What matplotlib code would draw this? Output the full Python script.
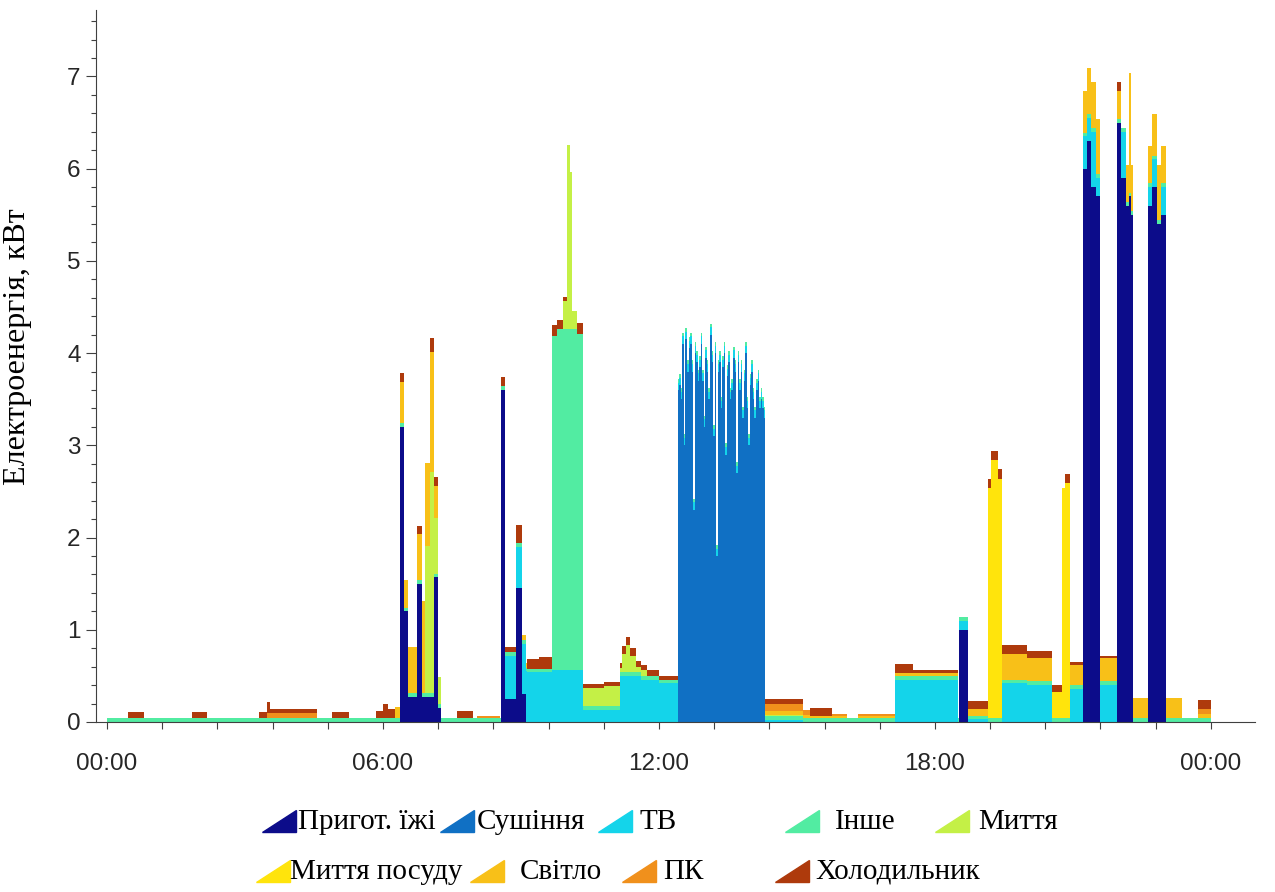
import numpy as np
import matplotlib.pyplot as plt
from matplotlib.patches import Polygon
from matplotlib.ticker import FixedLocator, MultipleLocator

# load profile of one household over a day, kW, stacked by appliance
names = ["Пригот. їжі", "Сушіння", "ТВ", "Інше", "Миття",
         "Миття посуду", "Світло", "ПК", "Холодильник"]
colors = ["#0c0c8a", "#1070c4", "#14d4ea", "#52eca2", "#c4f046",
          "#ffe40c", "#f8c018", "#f0901c", "#ae3a0c"]

# (start hour, end hour, kW)
cook = [(6.37, 6.46, 3.2), (6.46, 6.55, 1.2), (6.55, 6.73, 0.27), (6.73, 6.84, 1.5),
        (6.84, 7.10, 0.27), (7.10, 7.20, 1.57), (7.20, 7.27, 0.15),
        (8.57, 8.66, 3.6), (8.66, 8.90, 0.25), (8.90, 9.02, 1.45), (9.02, 9.12, 0.3),
        (18.52, 18.72, 1.0),
        (21.22, 21.30, 6.0), (21.30, 21.40, 6.3), (21.40, 21.50, 5.8), (21.50, 21.59, 5.7),
        (21.96, 22.05, 6.5), (22.05, 22.15, 5.9), (22.15, 22.22, 5.6), (22.22, 22.26, 5.7),
        (22.26, 22.30, 5.5),
        (22.63, 22.72, 5.6), (22.72, 22.82, 5.8), (22.82, 22.92, 5.4), (22.92, 23.02, 5.5)]

# dryer readings every 2 minutes from 12:25
dry_start = 12.41
dry = [3.6, 3.65, 3.5, 4.1, 3.0, 4.15, 3.8, 4.05, 4.1,
       3.8, 2.3, 4.0, 3.9, 3.7, 3.85, 4.1, 3.7, 3.2, 3.95,
       3.8, 3.5, 4.2, 3.9, 3.1, 4.0, 1.8, 3.8, 3.9, 3.4, 3.85,
       4.0, 2.9, 3.75, 3.9, 3.5, 3.6, 3.95, 3.8, 2.7, 3.9, 3.6,
       3.8, 3.3, 3.7, 4.0, 3.4, 3.0, 3.65, 3.8, 3.5, 3.3, 3.6,
       3.7, 3.4, 3.5, 3.4, 3.3]

tv = [(8.66, 8.90, 0.47), (8.90, 9.02, 0.45), (9.02, 9.13, 0.55), (9.13, 9.67, 0.54),
      (9.67, 10.35, 0.56), (10.35, 11.15, 0.13),
      (11.15, 11.6, 0.5), (11.6, 12.0, 0.46), (12.0, 12.41, 0.42), (12.41, 14.3, 0.08),
      (14.3, 15.13, 0.02), (17.13, 17.6, 0.46), (17.6, 18.5, 0.46),
      (18.52, 18.72, 0.1), (18.72, 19.15, 0.03),
      (19.45, 20.0, 0.42), (20.0, 20.54, 0.4), (20.93, 21.22, 0.36),
      (21.22, 21.30, 0.35), (21.30, 21.40, 0.25), (21.40, 21.50, 0.6), (21.50, 21.59, 0.2),
      (21.59, 21.96, 0.4), (22.05, 22.15, 0.5),
      (22.63, 22.72, 0.2), (22.72, 22.82, 0.3), (22.92, 23.02, 0.3)]

other = [(0.0, 9.67, 0.04), (9.67, 9.78, 3.62), (9.78, 10.22, 3.7),
         (10.22, 10.35, 3.65), (10.35, 24.0, 0.04)]

wash = [(6.91, 7.02, 1.6), (7.02, 7.10, 2.4), (7.10, 7.20, 0.6), (7.20, 7.27, 0.3),
        (9.92, 10.0, 0.3), (10.0, 10.06, 2.0), (10.06, 10.12, 1.7), (10.12, 10.22, 0.2),
        (10.35, 10.8, 0.2), (10.8, 11.15, 0.22),
        (11.15, 11.2, 0.05), (11.2, 11.28, 0.2), (11.28, 11.38, 0.3), (11.38, 11.5, 0.18),
        (11.5, 11.73, 0.06), (14.3, 15.13, 0.02)]

dish = [(19.15, 19.22, 2.5), (19.22, 19.38, 2.8), (19.38, 19.45, 2.6),
        (20.54, 20.76, 0.28), (20.76, 20.83, 2.5), (20.83, 20.93, 2.55)]

light = [(6.26, 6.37, 0.12), (6.37, 6.46, 0.45), (6.46, 6.55, 0.3), (6.55, 6.73, 0.5),
         (6.73, 6.84, 0.5), (6.84, 6.91, 1.0), (6.91, 7.02, 0.9), (7.02, 7.10, 1.3),
         (7.10, 7.20, 0.35), (9.02, 9.13, 0.05),
         (14.3, 15.28, 0.04), (15.28, 16.09, 0.03), (16.33, 18.5, 0.03),
         (18.72, 19.15, 0.07), (19.45, 20.0, 0.28), (20.0, 20.54, 0.25), (20.93, 21.22, 0.22),
         (21.22, 21.30, 0.45), (21.30, 21.40, 0.5), (21.40, 21.50, 0.5), (21.50, 21.59, 0.6),
         (21.59, 21.96, 0.25), (21.96, 22.05, 0.3), (22.15, 22.22, 0.4), (22.22, 22.26, 1.3),
         (22.26, 22.30, 0.5), (22.30, 22.63, 0.22),
         (22.63, 22.72, 0.4), (22.72, 22.82, 0.45), (22.82, 22.92, 0.6), (22.92, 23.02, 0.4),
         (23.02, 23.37, 0.22), (23.72, 24.0, 0.05)]

pc = [(3.48, 4.57, 0.06), (8.04, 8.54, 0.03), (14.3, 15.13, 0.07), (15.13, 15.28, 0.05),
      (15.76, 16.09, 0.02), (16.33, 17.13, 0.02), (23.72, 24.0, 0.05)]

fridge = [(0.45, 0.81, 0.07), (1.84, 2.18, 0.07), (3.30, 3.48, 0.07), (3.48, 3.55, 0.12),
          (3.55, 4.57, 0.04), (4.89, 5.26, 0.07), (5.85, 6.0, 0.08), (6.0, 6.1, 0.15),
          (6.1, 6.26, 0.1), (6.37, 6.46, 0.09), (6.73, 6.84, 0.08), (7.02, 7.10, 0.15),
          (7.10, 7.20, 0.1), (7.60, 7.96, 0.08),
          (8.57, 8.66, 0.1), (8.66, 8.90, 0.05), (8.90, 9.02, 0.2),
          (9.13, 9.4, 0.1), (9.4, 9.67, 0.12), (9.67, 9.78, 0.12), (9.78, 9.92, 0.1),
          (9.92, 10.0, 0.05), (10.22, 10.35, 0.12), (10.35, 11.15, 0.04),
          (11.15, 11.2, 0.05), (11.2, 11.5, 0.08), (11.5, 12.0, 0.06), (12.0, 12.41, 0.04),
          (14.3, 15.13, 0.06), (15.28, 15.76, 0.08),
          (17.13, 17.52, 0.1), (17.52, 18.5, 0.03), (18.72, 19.15, 0.09),
          (19.15, 19.45, 0.1), (19.45, 20.0, 0.1), (20.0, 20.54, 0.08),
          (20.54, 20.76, 0.08), (20.83, 20.93, 0.1), (20.93, 21.22, 0.03),
          (21.59, 21.96, 0.03), (21.96, 22.05, 0.1), (23.72, 24.0, 0.1)]

dry_seg = [(dry_start + i / 30, dry_start + (i + 1) / 30, v) for i, v in enumerate(dry)]
series = [cook, dry_seg, tv, other, wash, dish, light, pc, fridge]

edges = np.array(sorted({round(t, 6) for s in series for a, b, _ in s for t in (a, b)}))
mid = (edges[:-1] + edges[1:]) / 2


def level(segs):
    out = np.zeros(len(mid))
    for a, b, v in segs:
        out[(mid >= a) & (mid < b)] += v
    return out


cum = np.cumsum([level(s) for s in series], axis=0)

plt.rcParams["font.family"] = "Liberation Sans"
fig = plt.figure(figsize=(12.75, 8.92), dpi=100)
ax = fig.add_axes([96 / 1275, 1 - 722 / 892, (1255 - 96) / 1275, (722 - 10) / 892])

# top layer first, each filled down to zero, so no seams between layers
for i in range(len(series) - 1, -1, -1):
    top = np.append(cum[i], cum[i][-1])
    ax.fill_between(edges, 0, top, step="post", color=colors[i], lw=0)

ax.set_xlim(-0.24, 24.96)
ax.set_ylim(0, 7.72)
ax.xaxis.set_major_locator(FixedLocator([0, 6, 12, 18, 24]))
ax.set_xticklabels(["00:00", "06:00", "12:00", "18:00", "00:00"])
ax.xaxis.set_minor_locator(MultipleLocator(1.2))
ax.yaxis.set_major_locator(MultipleLocator(1))
ax.yaxis.set_minor_locator(MultipleLocator(0.2))
ax.tick_params(which="both", direction="out", colors="#404040", labelcolor="#262626",
               labelsize=17.5, width=0.8)
ax.tick_params(axis="y", which="major", length=7, pad=4)
ax.tick_params(axis="y", which="minor", length=3.5)
ax.tick_params(axis="x", which="both", length=5, pad=17)
for side in ["top", "right"]:
    ax.spines[side].set_visible(False)
for side in ["left", "bottom"]:
    ax.spines[side].set_color("#404040")

ax.set_ylabel("Електроенергія, кВт", family="Liberation Serif", fontsize=23)
ax.yaxis.set_label_coords(-0.055, 0.527)

# legend laid out by hand, wedge-shaped keys
leg_rows = [0, 1, 0, 1, 0, 1, 0, 1, 0]
leg_order = [0, 5, 1, 6, 2, 7, 3, 8, 4]
key_x = [262, 256, 440, 470, 598, 622, 785, 775, 935]
text_x = [298, 290, 477, 520, 640, 663, 835, 815, 978]
row_y = [822, 872]
for k, i in enumerate(leg_order):
    y = row_y[leg_rows[k]]
    x0 = key_x[k]
    tri = [(x0 / 1275, 1 - (y + 10) / 892), ((x0 + 34) / 1275, 1 - (y + 10) / 892),
           ((x0 + 34) / 1275, 1 - (y - 12) / 892)]
    fig.add_artist(Polygon(tri, closed=True, color=colors[i], transform=fig.transFigure))
    fig.text(text_x[k] / 1275, 1 - y / 892, names[i], family="Liberation Serif",
             fontsize=21, va="center", ha="left")

fig.savefig("out.png", dpi=100)
